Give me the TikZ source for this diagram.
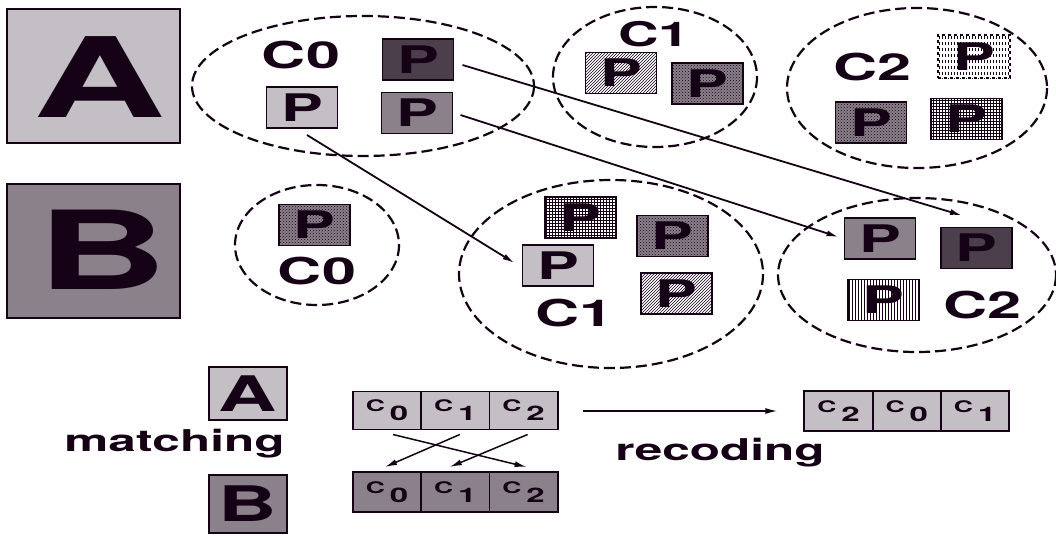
\documentclass[tikz,border=0pt]{standalone}
\usepackage{fontspec}
\newfontfamily\figfont{TeX Gyre Heros}[FakeStretch=1.65]
\usetikzlibrary{arrows.meta,patterns,positioning}

\definecolor{clight}{RGB}{196,191,196}
\definecolor{cmed}{RGB}{138,129,138}
\definecolor{cdark}{RGB}{74,63,74}
\definecolor{ink}{RGB}{22,2,22}

\newcommand{\sz}[1]{\figfont\bfseries\fontsize{#1}{#1}\selectfont}
% cluster code inside a cell
\newcommand{\cc}[1]{{\sz{16}C}\hspace{5pt}\raisebox{-9pt}{\sz{20}#1}}

\tikzset{
  box/.style={draw=ink, line width=1.8pt, inner sep=0pt, outer sep=0pt},
  pbox/.style={box, minimum width=71pt, minimum height=41pt, font=\sz{38}, text=ink},
  plight/.style={pbox, fill=clight},
  pmed/.style={pbox, fill=cmed},
  pdark/.style={pbox, fill=cdark},
  phatch/.style={pbox, preaction={fill=white}, pattern=north east lines, pattern color=ink},
  pdots/.style={pbox, preaction={fill=cmed}, pattern=crosshatch dots, pattern color=ink},
  pgrid/.style={pbox, preaction={fill=white}, pattern=grid, pattern color=ink},
  pstripe/.style={pbox, preaction={fill=white}, pattern=vertical lines, pattern color=ink},
  grp/.style={draw=ink, line width=2.2pt, dash pattern=on 11pt off 5pt},
  lbl/.style={font=\sz{37}, text=ink, inner sep=0pt},
  word/.style={font=\sz{30}, text=ink, inner sep=0pt, anchor=base},
  cell/.style={box, minimum width=68.3pt, minimum height=38pt, text=ink},
  arr/.style={draw=ink, line width=1.8pt, -{Latex[length=12pt,width=6pt]}},
}

\begin{document}
\begin{tikzpicture}[x=1pt, y=-1pt]
    \useasboundingbox (0,0) rectangle (1056,535);

    % Partition A
    \node[box, fill=clight, minimum width=173pt, minimum height=134pt] (boxA) at (93.5,76) {};
    \node[lbl, font=\sz{111}] (letA) at (100,77) {A};

    \draw[grp] (363,86) ellipse [x radius=171, y radius=70];
    \node[lbl] (a0lab) at (301,55) {C0};
    \node[pdark] (a0dark) at (418,59.5) {P};
    \node[plight] (a0light) at (302,107.5) {P};
    \node[pmed] (a0med) at (417,113) {P};

    \draw[grp] (655,77) ellipse [x radius=102, y radius=70];
    \node[lbl, font=\sz{34}] (a1lab) at (654,34) {C1};
    \node[phatch] (a1hatch) at (621,73) {P};
    \node[pdots] (a1dots) at (707.5,83.5) {P};

    \draw[grp] (917,88) ellipse [x radius=130, y radius=80];
    \node[lbl] (a2lab) at (872,67.5) {C2};
    \node[pstripe, dashed, minimum width=72pt, minimum height=43pt] (a2stripe) at (974,56.5) {P};
    \node[pdots] (a2dots) at (871,122.5) {P};
    \node[pgrid] (a2grid) at (966.5,119) {P};

    % Partition B
    \node[box, fill=cmed, minimum width=173pt, minimum height=134pt] (boxB) at (93.5,251) {};
    \node[lbl, font=\sz{109}] (letB) at (102,250) {B};

    \draw[grp] (317,245) ellipse [x radius=82, y radius=60];
    \node[pdots] (b0dots) at (314.5,225) {P};
    \node[lbl] (b0lab) at (317,271.5) {C0};

    \draw[grp] (611,274) ellipse [x radius=152, y radius=94];
    \node[pgrid] (b1grid) at (580.5,217.5) {P};
    \node[pdots] (b1dots) at (672.5,236) {P};
    \node[plight] (b1light) at (558,265.5) {P};
    \node[phatch] (b1hatch) at (676.5,293.5) {P};
    \node[lbl] (b1lab) at (574.5,313.5) {C1};

    \draw[grp] (917,275) ellipse [x radius=139, y radius=77];
    \node[pmed] (b2med) at (880,238.5) {P};
    \node[pdark] (b2dark) at (976.5,248) {P};
    \node[pstripe] (b2stripe) at (883.5,300) {P};
    \node[lbl] (b2lab) at (982,305) {C2};

    % where the blocks of A-C0 end up
    \draw[arr] ([shift={(9,5.5)}]a0dark.east) -- ([shift={(-14.5,-12)}]b2dark.north);
    \draw[arr] ([shift={(8,2)}]a0med.east) -- ([shift={(-6,-1.5)}]b2med.west);
    \draw[arr] ([shift={(5,7)}]a0light.south) -- ([shift={(-8,-2.5)}]b1light.west);

    % Matching and recoding
    \node[box, fill=clight, minimum width=78pt, minimum height=53pt, font=\sz{49}, text=ink] (smallA) at (248,393.5) {A};
    \node[box, fill=cmed, minimum width=78pt, minimum height=58pt, font=\sz{49}, text=ink] (smallB) at (248,504) {B};
    \node[word] (match) at (174.5,451) {matching};

    \node[cell, fill=clight] (ta0) at (387,410.5) {\cc{0}};
    \node[cell, fill=clight, right=0pt of ta0] (ta1) {\cc{1}};
    \node[cell, fill=clight, right=0pt of ta1] (ta2) {\cc{2}};
    \node[cell, fill=cmed, minimum height=40pt] (bb0) at (387,492) {\cc{0}};
    \node[cell, fill=cmed, minimum height=40pt, right=0pt of bb0] (bb1) {\cc{1}};
    \node[cell, fill=cmed, minimum height=40pt, right=0pt of bb1] (bb2) {\cc{2}};

    \draw[arr, line width=1.5pt] ([shift={(6,5)}]ta0.south) -- ([shift={(3,-5)}]bb2.north);
    \draw[arr, line width=1.5pt] ([shift={(4.5,5)}]ta1.south) -- ([shift={(-2,-5)}]bb0.north);
    \draw[arr, line width=1.5pt] ([shift={(4,5)}]ta2.south) -- ([shift={(-5.5,-5)}]bb1.north);

    \node[cell, fill=clight, minimum height=40pt] (ra0) at (838.5,411) {\cc{2}};
    \node[cell, fill=clight, minimum height=40pt, right=0pt of ra0] (ra1) {\cc{0}};
    \node[cell, fill=clight, minimum height=40pt, right=0pt of ra1] (ra2) {\cc{1}};

    \draw[arr, line width=1.5pt] ([shift={(25,0.5)}]ta2.east) -- ([shift={(-27,0)}]ra0.west);
    \node[word] (recod) at (720,460) {recoding};
\end{tikzpicture}
\end{document}
